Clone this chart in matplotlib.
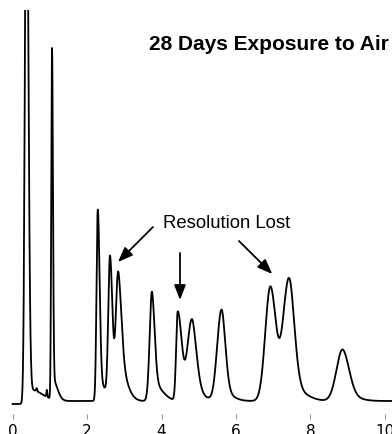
import numpy as np
import matplotlib
matplotlib.use("Agg")
import matplotlib.pyplot as plt
from matplotlib import font_manager

# peak table: retention time (min), height above
# the pre-injection baseline, left / right width (min)
peak_time = [0.373, 0.50, 0.645, 0.92, 1.058, 1.08, 2.286, 2.30, 2.616, 2.823, 2.85,
             3.736, 3.75, 4.435, 4.792, 4.85, 5.598, 5.65, 6.922, 7.405, 7.50, 8.848, 8.90]
peak_height = [600, 11, 3, 7, 340, 20, 175, 18, 140, 96, 35,
               92, 18, 89, 75, 10, 86, 8, 114, 116, 12, 47, 5]
peak_sigma_left = [0.040, 0.03, 0.015, 0.012, 0.020, 0.02, 0.033, 0.03, 0.045, 0.060, 0.05,
                   0.060, 0.04, 0.042, 0.105, 0.05, 0.110, 0.05, 0.135, 0.150, 0.08, 0.160, 0.10]
peak_sigma_right = [0.050, 0.30, 0.015, 0.012, 0.025, 0.12, 0.050, 0.20, 0.065, 0.090, 0.20,
                    0.075, 0.25, 0.110, 0.130, 0.25, 0.110, 0.25, 0.150, 0.150, 0.35, 0.180, 0.35]
baseline_before = 0
baseline_after = 3
injection_time = 0.3
run_end = 10.3

tick_values = [0, 2, 4, 6, 8, 10]
title = "28 Days Exposure to Air"
note = "Resolution Lost"
# (tail, tip) of the three arrows in chart units
arrows = [((3.77, 177), (2.83, 142)),
          ((4.496, 151), (4.496, 104)),
          ((6.08, 163), (6.975, 130))]

t = np.arange(0, run_end, 0.002)
signal = np.where(t < injection_time, baseline_before, baseline_after).astype(float)
for t0, h, sl, sr in zip(peak_time, peak_height, peak_sigma_left, peak_sigma_right):
    s = np.where(t < t0, sl, sr)
    signal += h * np.exp(-0.5 * ((t - t0) / s) ** 2)

names = {f.name for f in font_manager.fontManager.ttflist}
tick_font = "Liberation Sans Narrow" if "Liberation Sans Narrow" in names else "DejaVu Sans"

W, H = 392, 435
fig = plt.figure(figsize=(W / 100, H / 100), dpi=100)
ax = fig.add_axes([0, 20 / H, 1, 404 / H])
ax.plot(t, signal, color="black", lw=1.3, solid_joinstyle="round")
ax.set_xlim(-0.338, 10.19)
ax.set_ylim(-10, 394)

for side in ax.spines.values():
    side.set_visible(False)
ax.set_yticks([])
ax.set_xticks(tick_values)
ax.set_xticklabels([str(v) for v in tick_values], fontfamily=tick_font, fontsize=11)
ax.tick_params(axis="x", direction="out", length=3.6, width=0.8, color="#999999", pad=3)

fig.text(149 / W, 1 - 50.5 / H, title, fontfamily="Liberation Sans", fontweight="bold",
         fontsize=15, ha="left", va="baseline")
fig.text(163.3 / W, 1 - 228 / H, note, fontfamily="Liberation Sans", fontsize=13.3,
         ha="left", va="baseline")

for (x0, y0), (x1, y1) in arrows:
    ax.annotate("", xy=(x1, y1), xytext=(x0, y0),
                arrowprops=dict(arrowstyle="-|>,head_length=0.9,head_width=0.35",
                                mutation_scale=10, lw=1.3, color="black",
                                shrinkA=0, shrinkB=0))

fig.savefig("out.png", dpi=100)
